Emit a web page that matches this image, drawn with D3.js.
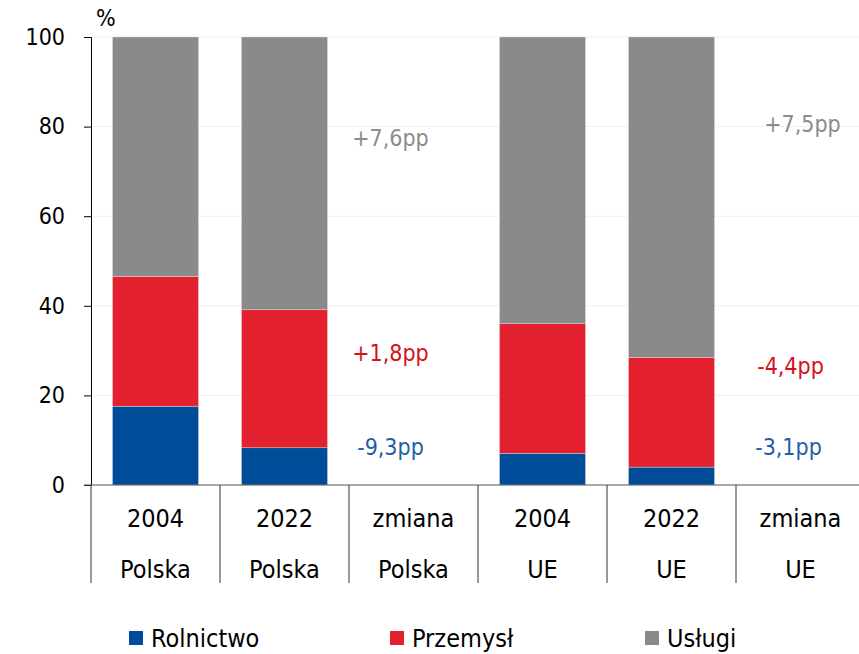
<!DOCTYPE html>
<html>
<head>
<meta charset="utf-8">
<script src="https://cdn.jsdelivr.net/npm/d3@7"></script>
<style>
  body { margin: 0; background: #fff; }
  svg text { font-family: "DejaVu Sans Condensed", "DejaVu Sans", sans-serif; font-stretch: condensed; }
</style>
</head>
<body>
<div id="chart"></div>
<script>
// categories (two-line labels)
const topLabels = ["2004", "2022", "zmiana", "2004", "2022", "zmiana"];
const bottomLabels = ["Polska", "Polska", "Polska", "UE", "UE", "UE"];
const seriesNames = ["Rolnictwo", "Przemysł", "Usługi"];
const seriesColors = ["#004c99", "#e3202d", "#8a8a8a"];

// shares in % (null for the "zmiana" columns)
const rolnictwo = [17.6, 8.3, null, 7.1, 4.0, null];
const przemysl  = [29.0, 30.8, null, 28.9, 24.5, null];
const uslugi    = [53.4, 60.9, null, 64.0, 71.5, null];

// change labels for the "zmiana" columns
const changePolska = ["-9,3pp", "+1,8pp", "+7,6pp"];
const changeUE     = ["-3,1pp", "-4,4pp", "+7,5pp"];
const changeColors = ["#1f5ea8", "#d4111c", "#8c8c8c"];

const yTicks = [0, 20, 40, 60, 80, 100];

const width = 859, height = 654;
const margin = { left: 91, top: 37, bottom: 169 };

const svg = d3.select("#chart").append("svg")
  .attr("width", width)
  .attr("height", height);

const x = d3.scaleBand()
  .domain(d3.range(topLabels.length))
  .range([margin.left, margin.left + 129 * 6])
  .paddingInner(0.333)
  .paddingOuter(0.1665);

const y = d3.scaleLinear()
  .domain([0, 100])
  .range([height - margin.bottom, margin.top]);

// faint gridlines
svg.append("g")
  .selectAll("line")
  .data(yTicks.slice(1))
  .enter().append("line")
    .attr("x1", margin.left)
    .attr("x2", width)
    .attr("y1", d => y(d))
    .attr("y2", d => y(d))
    .attr("stroke", "#f0f0f0")
    .attr("stroke-width", 1);

// stacked bars
const rows = topLabels.map((t, i) => ({ i: i, Rolnictwo: rolnictwo[i], "Przemysł": przemysl[i], "Usługi": uslugi[i] }))
  .filter(d => d.Rolnictwo != null);

const stack = d3.stack().keys(seriesNames)(rows);

svg.append("g")
  .selectAll("g")
  .data(stack)
  .enter().append("g")
    .attr("fill", (d, k) => seriesColors[k])
  .selectAll("rect")
  .data(d => d)
  .enter().append("rect")
    .attr("x", d => x(d.data.i))
    .attr("width", x.bandwidth())
    .attr("y", d => y(d[1]))
    .attr("height", d => y(d[0]) - y(d[1]))
    .attr("stroke", "#e6e6e6")
    .attr("stroke-width", 0.4);

// y axis
const axisY = d3.axisLeft(y).tickValues(yTicks).tickSize(7).tickPadding(19);
const leftAxis = svg.append("g")
  .attr("transform", `translate(${margin.left},0)`)
  .call(axisY);
leftAxis.selectAll("text")
  .style("font-size", "23px")
  .attr("fill", "#000");
leftAxis.select(".domain").attr("stroke", "#000");

svg.append("text")
  .attr("x", 96)
  .attr("y", 26)
  .style("font-size", "23px")
  .text("%");

// category axis with separators
const axisBase = y(0);
const catAxis = svg.append("g");
catAxis.append("line")
  .attr("x1", margin.left - 7)
  .attr("x2", width)
  .attr("y1", axisBase)
  .attr("y2", axisBase)
  .attr("stroke", "#555");

const step = x.step();
catAxis.selectAll("line.sep")
  .data(d3.range(topLabels.length))
  .enter().append("line")
    .attr("class", "sep")
    .attr("x1", i => x(i) - x.paddingOuter() * step)
    .attr("x2", i => x(i) - x.paddingOuter() * step)
    .attr("y1", axisBase)
    .attr("y2", axisBase + 98)
    .attr("stroke", "#333");

catAxis.selectAll("text.top")
  .data(topLabels)
  .enter().append("text")
    .attr("class", "top")
    .attr("x", (d, i) => x(i) + x.bandwidth() / 2)
    .attr("y", axisBase + 42)
    .attr("text-anchor", "middle")
    .style("font-size", "25px")
    .text(d => d);

catAxis.selectAll("text.bottom")
  .data(bottomLabels)
  .enter().append("text")
    .attr("class", "bottom")
    .attr("x", (d, i) => x(i) + x.bandwidth() / 2)
    .attr("y", axisBase + 93)
    .attr("text-anchor", "middle")
    .style("font-size", "25px")
    .text(d => d);

// change annotations
const labelLevels = {
  Polska: [8.5, 29.5, 77.5],
  UE: [8.5, 26.5, 80.5]
};
const labelShift = { Polska: [-23, -23, -23], UE: [-12, -10, 2] };

function drawChanges(labels, idx, key){
  svg.append("g")
    .selectAll("text")
    .data(labels)
    .enter().append("text")
      .attr("x", (d, k) => x(idx) + x.bandwidth() / 2 + labelShift[key][k])
      .attr("y", (d, k) => y(labelLevels[key][k]))
      .attr("dy", "0.35em")
      .attr("text-anchor", "middle")
      .attr("fill", (d, k) => changeColors[k])
      .style("font-size", "23px")
      .text(d => d);
}
drawChanges(changePolska, 2, "Polska");
drawChanges(changeUE, 5, "UE");

// legend
const legendX = [129, 390, 645];
const legend = svg.append("g")
  .selectAll("g")
  .data(seriesNames)
  .enter().append("g")
    .attr("transform", (d, i) => `translate(${legendX[i]}, 638)`);

legend.append("rect")
  .attr("x", 0)
  .attr("y", -7)
  .attr("width", 14)
  .attr("height", 14)
  .attr("fill", (d, i) => seriesColors[i]);

legend.append("text")
  .attr("x", 22)
  .attr("y", 0)
  .attr("dy", "0.35em")
  .style("font-size", "25px")
  .text(d => d);
</script>
</body>
</html>
